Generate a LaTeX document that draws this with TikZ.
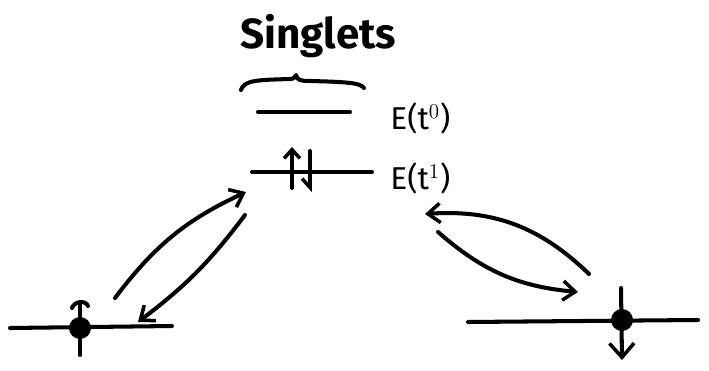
\documentclass[tikz,border=0pt]{standalone}
\usepackage{fontspec}
\setmainfont{Fira Sans}
\usetikzlibrary{arrows.meta}
\begin{document}
\begin{tikzpicture}[x=0.02cm,y=-0.02cm,
  ink/.style={line width=2.3pt,line cap=round,line join=round},
  level/.style={ink},
  trans/.style={ink,-{Straight Barb[length=7pt,width=11pt,line width=2pt]}},
  site/.style={circle,fill=black,minimum size=0.44cm,inner sep=0pt},
  lab/.style={font=\fontsize{18}{21}\selectfont,anchor=west,inner sep=0pt}]
\useasboundingbox (0,0) rectangle (709,371);
% title
\node[font=\fontsize{24}{28}\selectfont\bfseries,inner sep=0pt] (title) at (318,36) {Singlets};
% brace
\coordinate (bl) at (241,90);
\coordinate (bc) at (296,75);
\coordinate (br) at (364,88);
\draw[ink] (bl) .. controls (244,80) and (258,80) .. (290,79)
  .. controls (294,79) and (295,77) .. (bc)
  .. controls (297,80) and (300,81) .. (310,81)
  .. controls (350,82) and (360,83) .. (br);
% singlet levels
\coordinate (t0l) at (258,112); \coordinate (t0r) at (350,112);
\coordinate (t1l) at (252,172); \coordinate (t1r) at (372,172);
\draw[level] (t0l) -- (t0r);
\draw[level] (t1l) -- (t1r);
\node[lab] (e0) at (390,118) {E(t$^0$)};
\node[lab] (e1) at (390,178) {E(t$^1$)};
% electron pair
\coordinate (u1) at (292,188); \coordinate (u2) at (292,147);
\coordinate (d1) at (310,151); \coordinate (d2) at (310,192);
\draw[ink,-{Straight Barb[length=5pt,width=9pt,line width=2pt]}] (u1) -- (u2);
\draw[ink,-{Straight Barb[right,length=5pt,width=9pt,line width=2pt]}] (d1) -- (d2);
% left site
\coordinate (ll) at (10,328); \coordinate (lr) at (172,326);
\draw[level] (ll) -- (lr);
\node[site] (ldot) at (80,328) {};
\coordinate (lt) at (80,302); \coordinate (lb) at (80,355);
\draw[ink] (lb) -- (lt);
\draw[ink] (72,308) .. controls (74,301) and (86,300) .. (88,306);
% right site
\coordinate (rl) at (468,322); \coordinate (rr) at (698,320);
\draw[level] (rl) -- (rr);
\node[site] (rdot) at (622,320) {};
\coordinate (rt) at (621,288); \coordinate (rb) at (622,360);
\draw[ink,-{Straight Barb[length=8pt,width=14pt,line width=2pt]}] (rt) -- (rb);
% left transitions
\coordinate (a1s) at (115,298); \coordinate (a1e) at (246,192);
\coordinate (a2s) at (245,215); \coordinate (a2e) at (138,322);
\draw[trans] (a1s) to[bend left=14] (a1e);
\draw[trans] (a2s) to[bend left=8] (a2e);
% right transitions
\coordinate (a3s) at (589,274); \coordinate (a3e) at (425,214);
\coordinate (a4s) at (438,232); \coordinate (a4e) at (578,292);
\draw[trans] (a3s) to[bend right=24] (a3e);
\draw[trans] (a4s) to[bend right=18] (a4e);
\end{tikzpicture}
\end{document}
